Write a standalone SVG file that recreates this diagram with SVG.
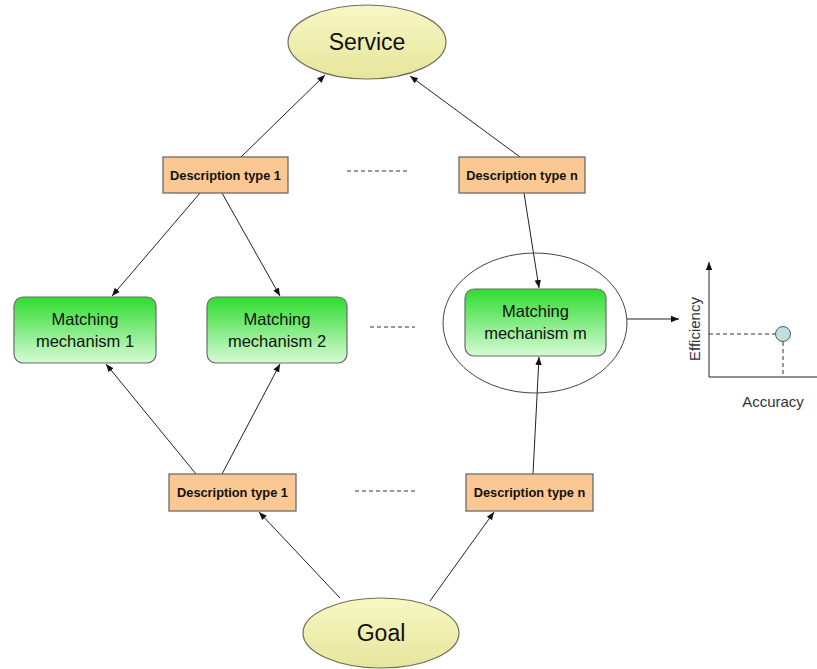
<svg xmlns="http://www.w3.org/2000/svg" width="817" height="669" viewBox="0 0 817 669">
<style>
.oval{fill:url(#yel);stroke:#6f6f5a;stroke-width:1.2}
.desc{fill:#fbc793;stroke:#6b6b6b;stroke-width:1.3}
.mm{fill:url(#grn);stroke:#6b6b6b;stroke-width:1.2}
.t{font-family:"Liberation Sans",Arial,sans-serif;fill:#111;text-anchor:middle}
.dt{font-size:12.8px;font-weight:bold}
.mt{font-size:16.5px}
.ot{font-size:23px}
.ax{font-size:15px;fill:#333}
.line{stroke:#222;stroke-width:1;fill:none}
.dash{stroke:#333;stroke-width:1;stroke-dasharray:4,3;fill:none}
</style>
<defs>
<linearGradient id="yel" x1="0" y1="0" x2="0" y2="1">
<stop offset="0" stop-color="#f7f7c4"/><stop offset="1" stop-color="#e6e69c"/>
</linearGradient>
<linearGradient id="grn" x1="0" y1="0" x2="0" y2="1">
<stop offset="0" stop-color="#2fdc2f"/><stop offset="1" stop-color="#d6fbd6"/>
</linearGradient>
<marker id="ah" viewBox="0 0 10 10" refX="10" refY="5" markerWidth="8" markerHeight="8" orient="auto" markerUnits="userSpaceOnUse">
<path d="M0,1 L10,5 L0,9 Z" fill="#111"/>
</marker>
</defs>
<rect width="817" height="669" fill="#fff"/>
<g id="connectors">
<line class="line" x1="241" y1="157" x2="325" y2="75" marker-end="url(#ah)"/>
<line class="line" x1="520" y1="157" x2="410" y2="76" marker-end="url(#ah)"/>
<line class="line" x1="200" y1="193" x2="112" y2="296" marker-end="url(#ah)"/>
<line class="line" x1="222" y1="193" x2="280" y2="296" marker-end="url(#ah)"/>
<line class="line" x1="524" y1="193" x2="539" y2="288" marker-end="url(#ah)"/>
<line class="line" x1="196" y1="474" x2="106" y2="364" marker-end="url(#ah)"/>
<line class="line" x1="222" y1="474" x2="280" y2="364" marker-end="url(#ah)"/>
<line class="line" x1="533" y1="474" x2="539" y2="357" marker-end="url(#ah)"/>
<line class="line" x1="340" y1="598" x2="259" y2="512" marker-end="url(#ah)"/>
<line class="line" x1="430" y1="601" x2="494" y2="512" marker-end="url(#ah)"/>
<line class="line" x1="627" y1="319" x2="679" y2="319" marker-end="url(#ah)"/>
<line class="dash" x1="347" y1="171" x2="407" y2="171"/>
<line class="dash" x1="370" y1="327" x2="415" y2="327"/>
<line class="dash" x1="355" y1="491" x2="415" y2="491"/>
</g>
<g id="service"><ellipse class="oval" cx="367" cy="42" rx="79" ry="37"/><text class="t ot" x="367" y="50">Service</text></g>
<g id="desc1-top"><rect class="desc" x="163" y="157" width="125" height="36"/><text class="t dt" x="225.5" y="180">Description type 1</text></g>
<g id="descn-top"><rect class="desc" x="459" y="157" width="126" height="36"/><text class="t dt" x="522" y="180">Description type n</text></g>
<g id="mm1"><rect class="mm" x="14" y="297" width="142" height="66" rx="9"/><text class="t mt" x="85" y="325">Matching</text><text class="t mt" x="85" y="347">mechanism 1</text></g>
<g id="mm2"><rect class="mm" x="207" y="297" width="140" height="66" rx="9"/><text class="t mt" x="277" y="325">Matching</text><text class="t mt" x="277" y="347">mechanism 2</text></g>
<g id="mmm"><ellipse cx="535" cy="323" rx="92" ry="70" fill="none" stroke="#444" stroke-width="1"/><rect class="mm" x="465" y="289" width="141" height="67" rx="9"/><text class="t mt" x="535.5" y="317">Matching</text><text class="t mt" x="535.5" y="339">mechanism m</text></g>
<g id="desc1-bottom"><rect class="desc" x="169" y="474" width="127" height="37"/><text class="t dt" x="232.5" y="497">Description type 1</text></g>
<g id="descn-bottom"><rect class="desc" x="466" y="474" width="127" height="37"/><text class="t dt" x="529.5" y="497">Description type n</text></g>
<g id="goal"><ellipse class="oval" cx="381" cy="633" rx="78" ry="35"/><text class="t ot" x="381" y="641">Goal</text></g>
<g id="chart">
<line class="line" x1="709" y1="377" x2="709" y2="262" marker-end="url(#ah)"/>
<line class="line" x1="709" y1="377" x2="817" y2="377"/>
<line class="dash" x1="709" y1="334" x2="775" y2="334"/>
<line class="dash" x1="783" y1="342" x2="783" y2="377"/>
<circle cx="783" cy="334" r="7.5" fill="#bfe0e0" stroke="#555" stroke-width="1"/>
<text class="t ax" transform="translate(700,329) rotate(-90)">Efficiency</text>
<text class="t ax" x="773" y="407">Accuracy</text>
</g>
</svg>
